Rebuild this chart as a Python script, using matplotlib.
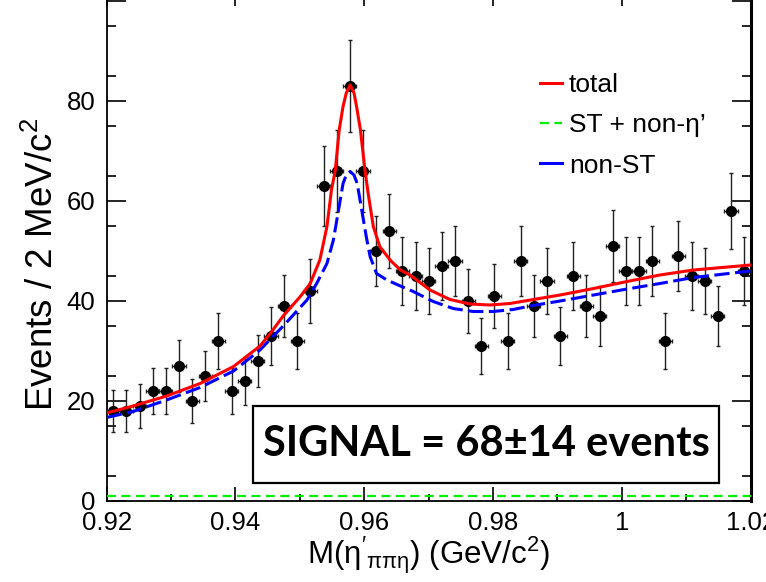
import numpy as np
import matplotlib
matplotlib.use("Agg")
import matplotlib.pyplot as plt
from matplotlib.lines import Line2D
from matplotlib.patches import Rectangle

plt.rcParams['font.family'] = ['Liberation Sans', 'DejaVu Sans']
plt.rcParams['mathtext.fontset'] = 'custom'
plt.rcParams['mathtext.rm'] = 'Liberation Sans'
plt.rcParams['mathtext.it'] = 'Liberation Sans:italic'
plt.rcParams['mathtext.bf'] = 'Liberation Sans:bold'
plt.rcParams['mathtext.default'] = 'regular'

# histogram: 49 bins between 0.92 and 1.02 GeV/c^2
x_lo, x_hi, n_bins = 0.92, 1.02, 49
counts = [18, 18, 19, 22, 22, 27, 20, 25, 32, 22,
          24, 28, 33, 39, 32, 42, 63, 66, 83, 66,
          50, 54, 46, 45, 44, 47, 48, 40, 31, 41,
          32, 48, 39, 44, 33, 45, 39, 37, 51, 46,
          46, 48, 32, 49, 45, 44, 37, 58, 46]

# fit curves
total_m = [0.9200, 0.9241, 0.9293, 0.9345, 0.9397, 0.9438, 0.9454, 0.9474,
           0.9500, 0.9516, 0.9531, 0.9542, 0.9549, 0.9555, 0.9561, 0.9567,
           0.9572, 0.9578, 0.9584, 0.9588, 0.9594, 0.9601, 0.9606, 0.9614,
           0.9624, 0.9640, 0.9656, 0.9671, 0.9702, 0.9733, 0.9764, 0.9795,
           0.9826, 0.9858, 0.9904, 0.9956, 1.0008, 1.0059, 1.0111, 1.0200]
total_y = [17.6, 19.0, 21.0, 23.5, 26.9, 31.0, 33.5, 37.0,
           40.8, 43.5, 48.2, 54.9, 62.2, 66.2, 74.2, 78.9,
           81.6, 83.2, 81.6, 78.9, 74.2, 66.2, 61.5, 54.9,
           50.9, 48.2, 46.2, 45.2, 42.2, 40.3, 39.4, 39.2,
           39.5, 40.2, 41.2, 42.5, 43.9, 45.2, 46.2, 47.2]

nonst_m = [0.9200, 0.9241, 0.9293, 0.9345, 0.9397, 0.9438, 0.9474, 0.9511,
           0.9526, 0.9542, 0.9552, 0.9560, 0.9567, 0.9572, 0.9578, 0.9584,
           0.9589, 0.9596, 0.9603, 0.9609, 0.9619, 0.9635, 0.9656, 0.9676,
           0.9707, 0.9738, 0.9769, 0.9800, 0.9831, 0.9862, 0.9904, 0.9956,
           1.0008, 1.0059, 1.0111, 1.0200]
nonst_y = [16.7, 17.9, 20.2, 22.7, 26.0, 30.2, 35.0, 40.2,
           43.5, 47.5, 52.2, 58.2, 63.5, 65.2, 65.9, 65.2,
           63.5, 58.2, 52.9, 48.9, 45.5, 44.2, 43.0, 41.9,
           39.9, 38.5, 37.9, 37.9, 38.3, 39.1, 40.0, 41.2,
           42.4, 43.5, 44.7, 46.0]

st_m = [0.92, 1.02]
st_y = [1.0, 1.0]

signal_text = 'SIGNAL = 68\u00b114 events'

edges = np.linspace(x_lo, x_hi, n_bins + 1)
centers = 0.5 * (edges[1:] + edges[:-1])
half_w = 0.5 * (edges[1] - edges[0])
counts = np.array(counts)

W, H = 766, 582
fig = plt.figure(figsize=(W / 100, H / 100), dpi=100)
ax = fig.add_axes([106.7 / W, 81 / H, 644 / W, 509 / H])

ax.errorbar(centers, counts, yerr=np.sqrt(counts), xerr=half_w, fmt='o',
            color='black', ms=7, ecolor='#222222', elinewidth=1,
            capsize=1.5, capthick=1, zorder=3)
ax.plot(st_m, st_y, color='#00ee00', lw=1.6, dashes=(4, 2.5), zorder=4)
ax.plot(nonst_m, nonst_y, color='#0000ff', lw=2.2, dashes=(5, 1.8), zorder=4)
ax.plot(total_m, total_y, color='#ff0000', lw=2.2, zorder=5)

ax.set_xlim(x_lo, x_hi)
ax.set_ylim(0, 101.8)
ax.set_xticks(np.arange(0.92, 1.0201, 0.02))
ax.set_xticklabels(['0.92', '0.94', '0.96', '0.98', '1', '1.02'])
ax.set_xticks(np.arange(0.93, 1.02, 0.02), minor=True)
ax.set_yticks([0, 20, 40, 60, 80, 100])
ax.set_yticklabels(['0', '20', '40', '60', '80', ''])
ax.set_yticks(np.arange(5, 100, 10), minor=True)
ax.tick_params(which='both', direction='in', top=True, right=True,
               labelsize=18.5, width=1.2)
ax.tick_params(axis='x', which='major', length=10, pad=7)
ax.tick_params(axis='x', which='minor', length=5)
ax.tick_params(axis='y', which='major', length=13.5, pad=8)
ax.tick_params(axis='y', which='minor', length=6.5)
ax.spines['top'].set_visible(False)
for side in ['left', 'bottom']:
    ax.spines[side].set_linewidth(1.3)
ax.spines['right'].set_linewidth(2.2)

ax.set_xlabel(r"M($\eta'_{\pi\pi\eta}$) (GeV/c$^2$)", fontsize=22.5, labelpad=0)
ax.set_ylabel(r'Events / 2 MeV/c$^2$', fontsize=26.5)
ax.yaxis.set_label_coords(-0.071, 0.464)

handles = [Line2D([], [], color='#ff0000', lw=2.2),
           Line2D([], [], color='#00ee00', lw=1.6, dashes=(4, 2.5)),
           Line2D([], [], color='#0000ff', lw=2.2)]
ax.legend(handles, ['total', 'ST + non-\u03b7\u2019', 'non-ST'],
          loc='upper left', bbox_to_anchor=(540 / W, 1 - 73 / H),
          bbox_transform=fig.transFigure, frameon=False, fontsize=19,
          handlelength=0.85, handletextpad=0.25, labelspacing=0.62,
          borderpad=0, borderaxespad=0)

# signal box
fig.patches.append(Rectangle((253.3 / W, 1 - 483.3 / H), 465.7 / W, 77.6 / H,
                             transform=fig.transFigure, facecolor='white',
                             edgecolor='black', lw=1.6, zorder=10))
fig.text(486.2 / W, 1 - 444.5 / H, signal_text, ha='center', va='center',
         fontsize=30, fontweight='bold', family=['Lato', 'DejaVu Sans'],
         zorder=11)

fig.savefig('out.png', dpi=100)
